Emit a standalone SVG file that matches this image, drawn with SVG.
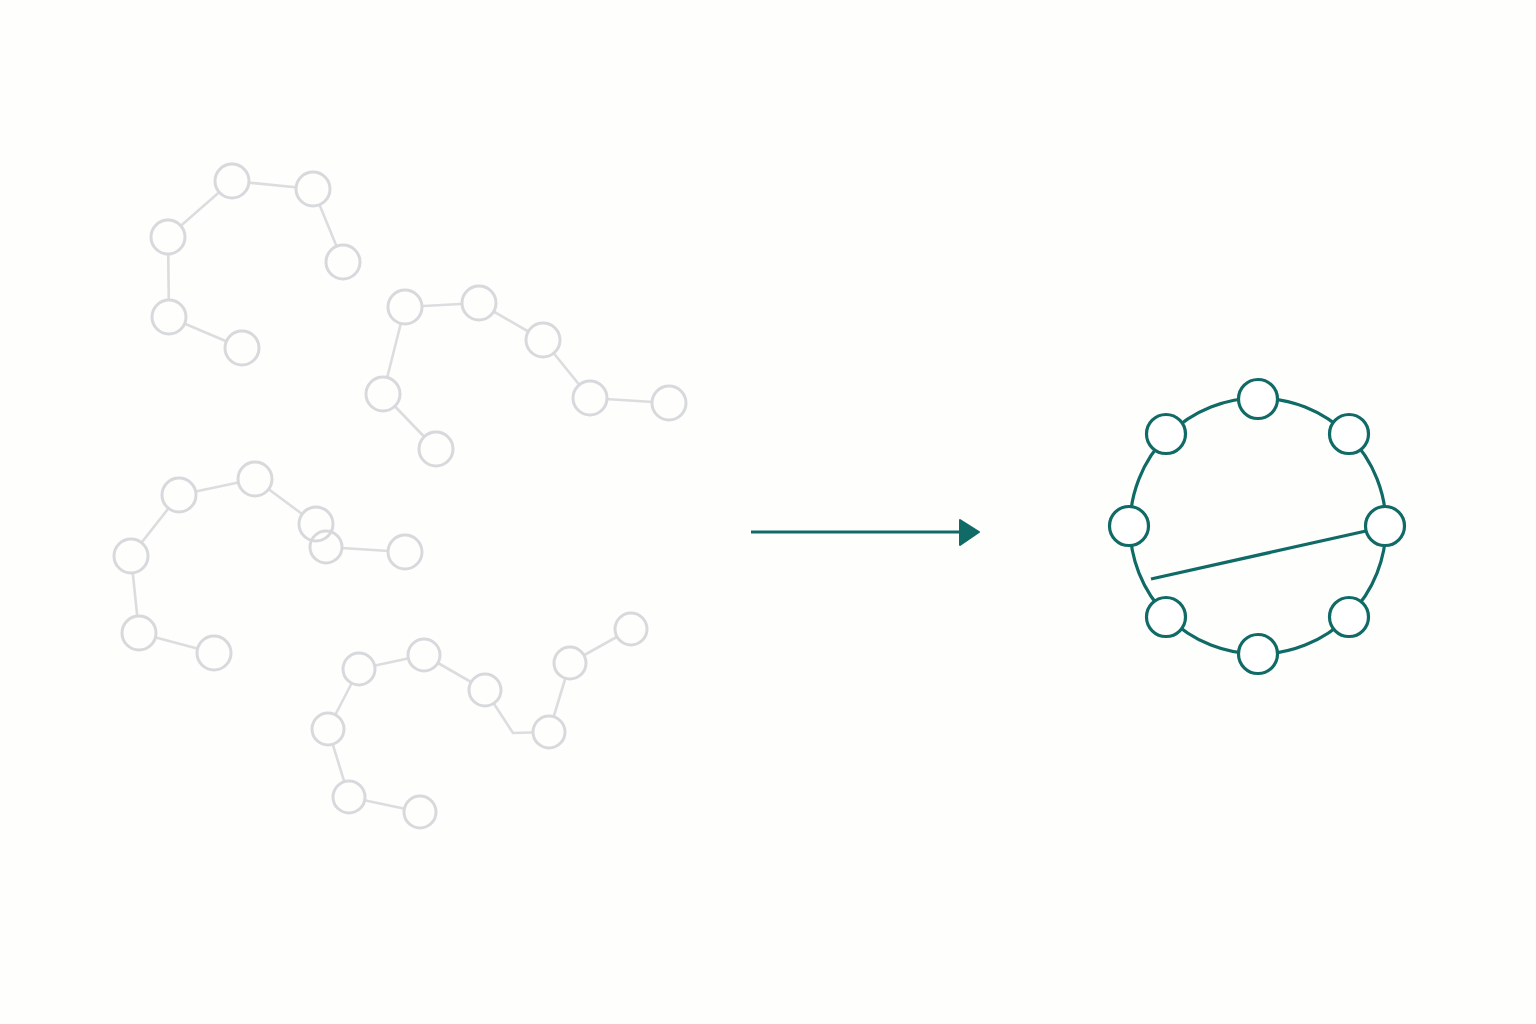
<svg xmlns="http://www.w3.org/2000/svg" width="1536" height="1024" viewBox="0 0 1536 1024">
<style>
.ge{stroke:#dcdddf;stroke-width:2.6;fill:none;stroke-linecap:round}
.gn{stroke:#d8d9dc;stroke-width:3;fill:#fefefd}
.te{stroke:#106a66;stroke-width:3.2;fill:none}
.tn{stroke:#106a66;stroke-width:3.2;fill:#ffffff}
</style>
<rect width="1536" height="1024" fill="#fefefd"/>
<g id="connectors">
<g id="chain1-edges">
<line class="ge" x1="232" y1="181" x2="313" y2="189"/>
<line class="ge" x1="232" y1="181" x2="168" y2="237"/>
<line class="ge" x1="313" y1="189" x2="343" y2="262"/>
<line class="ge" x1="168" y1="237" x2="169" y2="317"/>
<line class="ge" x1="169" y1="317" x2="242" y2="348"/>
</g>
<g id="chain2-edges">
<line class="ge" x1="405" y1="307" x2="479" y2="303"/>
<line class="ge" x1="479" y1="303" x2="543" y2="340"/>
<line class="ge" x1="543" y1="340" x2="590" y2="398"/>
<line class="ge" x1="590" y1="398" x2="669" y2="403"/>
<line class="ge" x1="405" y1="307" x2="383" y2="394"/>
<line class="ge" x1="383" y1="394" x2="436" y2="449"/>
</g>
<g id="chain3-edges">
<line class="ge" x1="179" y1="495" x2="255" y2="479"/>
<line class="ge" x1="255" y1="479" x2="302" y2="514"/>
<line class="ge" x1="326" y1="547" x2="405" y2="552"/>
<line class="ge" x1="179" y1="495" x2="131" y2="556"/>
<line class="ge" x1="131" y1="556" x2="139" y2="633"/>
<line class="ge" x1="139" y1="633" x2="214" y2="653"/>
</g>
<g id="chain4-edges">
<line class="ge" x1="359" y1="669" x2="424" y2="655"/>
<line class="ge" x1="424" y1="655" x2="485" y2="690"/>
<polyline class="ge" points="485,690 513,733 549,732"/>
<line class="ge" x1="549" y1="732" x2="570" y2="663"/>
<line class="ge" x1="570" y1="663" x2="631" y2="629"/>
<line class="ge" x1="359" y1="669" x2="328" y2="729"/>
<line class="ge" x1="328" y1="729" x2="349" y2="797"/>
<line class="ge" x1="349" y1="797" x2="420" y2="812"/>
</g>
<g id="ring-edges">
<circle class="te" cx="1258" cy="526" r="128"/>
<line class="te" x1="1366" y1="531" x2="1151" y2="579"/>
</g>
<g id="arrow">
<line x1="751" y1="532" x2="962" y2="532" stroke="#106a66" stroke-width="3"/>
<path d="M960,520 L979,532 L960,545 Z" fill="#106a66" stroke="#106a66" stroke-width="2" stroke-linejoin="round"/>
</g>
</g>
<g id="chain1">
<circle class="gn" cx="232" cy="181" r="17"/>
<circle class="gn" cx="313" cy="189" r="17"/>
<circle class="gn" cx="168" cy="237" r="17"/>
<circle class="gn" cx="343" cy="262" r="17"/>
<circle class="gn" cx="169" cy="317" r="17"/>
<circle class="gn" cx="242" cy="348" r="17"/>
</g>
<g id="chain2">
<circle class="gn" cx="405" cy="307" r="17"/>
<circle class="gn" cx="479" cy="303" r="17"/>
<circle class="gn" cx="543" cy="340" r="17"/>
<circle class="gn" cx="383" cy="394" r="17"/>
<circle class="gn" cx="590" cy="398" r="17"/>
<circle class="gn" cx="669" cy="403" r="17"/>
<circle class="gn" cx="436" cy="449" r="17"/>
</g>
<g id="chain3">
<circle class="gn" cx="179" cy="495" r="17"/>
<circle class="gn" cx="255" cy="479" r="17"/>
<circle class="gn" cx="326" cy="547" r="16"/>
<circle class="gn" cx="316" cy="524" r="17" style="fill:none"/>
<circle class="gn" cx="405" cy="552" r="17"/>
<circle class="gn" cx="131" cy="556" r="17"/>
<circle class="gn" cx="139" cy="633" r="17"/>
<circle class="gn" cx="214" cy="653" r="17"/>
</g>
<g id="chain4">
<circle class="gn" cx="359" cy="669" r="16"/>
<circle class="gn" cx="424" cy="655" r="16"/>
<circle class="gn" cx="485" cy="690" r="16"/>
<circle class="gn" cx="549" cy="732" r="16"/>
<circle class="gn" cx="570" cy="663" r="16"/>
<circle class="gn" cx="631" cy="629" r="16"/>
<circle class="gn" cx="328" cy="729" r="16"/>
<circle class="gn" cx="349" cy="797" r="16"/>
<circle class="gn" cx="420" cy="812" r="16"/>
</g>
<g id="ring">
<circle class="tn" cx="1258" cy="399" r="19.5"/>
<circle class="tn" cx="1349" cy="434" r="19.5"/>
<circle class="tn" cx="1385" cy="526" r="19.5"/>
<circle class="tn" cx="1349" cy="617" r="19.5"/>
<circle class="tn" cx="1258" cy="654" r="19.5"/>
<circle class="tn" cx="1166" cy="617" r="19.5"/>
<circle class="tn" cx="1129" cy="526" r="19.5"/>
<circle class="tn" cx="1166" cy="434" r="19.5"/>
</g>
</svg>
